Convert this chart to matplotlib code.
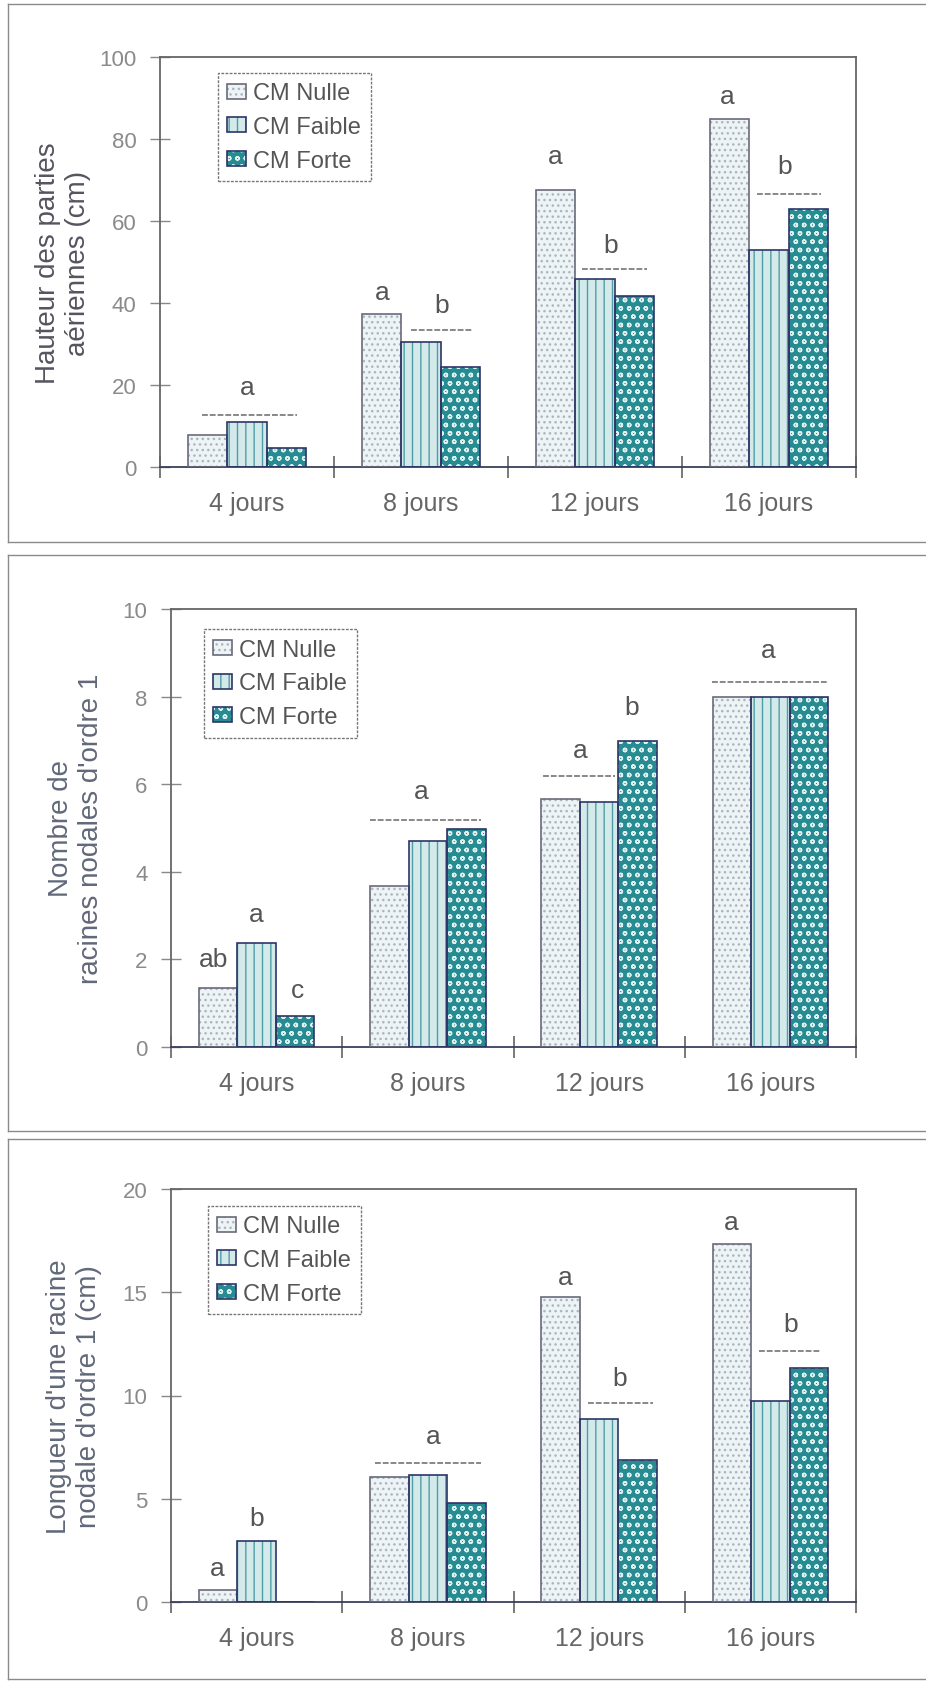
import matplotlib
matplotlib.use('Agg')
import matplotlib.pyplot as plt
from matplotlib.patches import Patch
from matplotlib.lines import Line2D
from matplotlib.legend_handler import HandlerTuple
import numpy as np

# ---------------- data ----------------
groups = ["4 jours", "8 jours", "12 jours", "16 jours"]
series = ["CM Nulle", "CM Faible", "CM Forte"]

hauteur_nulle = [7.8, 37.3, 67.6, 84.9]
hauteur_faible = [11.0, 30.6, 45.9, 53.0]
hauteur_forte = [4.7, 24.4, 41.6, 63.0]

nombre_nulle = [1.35, 3.67, 5.66, 8.0]
nombre_faible = [2.37, 4.70, 5.60, 8.0]
nombre_forte = [0.71, 4.98, 6.99, 8.0]

longueur_nulle = [0.6, 6.03, 14.77, 17.36]
longueur_faible = [2.95, 6.15, 8.86, 9.75]
longueur_forte = [0.0, 4.81, 6.88, 11.31]

# significance letters: (group, offset, y, text)
hauteur_letters = [(0, 0.0, 19.4, 'a'), (1, -0.22, 42.6, 'a'), (1, 0.12, 39.6, 'b'),
                   (2, -0.23, 75.8, 'a'), (2, 0.09, 54.2, 'b'),
                   (3, -0.24, 90.6, 'a'), (3, 0.09, 73.4, 'b')]
hauteur_lines = [(0, -0.26, 0.29, 12.7), (1, -0.06, 0.30, 33.4),
                 (2, -0.075, 0.30, 48.3), (3, -0.07, 0.30, 66.5)]

nombre_letters = [(0, -0.25, 2.02, 'ab'), (0, 0.0, 3.04, 'a'), (0, 0.24, 1.31, 'c'),
                  (1, -0.04, 5.85, 'a'), (2, -0.11, 6.77, 'a'), (2, 0.19, 7.76, 'b'),
                  (3, -0.01, 9.06, 'a')]
nombre_lines = [(1, -0.34, 0.31, 5.18), (2, -0.33, 0.09, 6.18), (3, -0.34, 0.33, 8.33)]

longueur_letters = [(0, -0.23, 1.66, 'a'), (0, 0.0, 4.09, 'b'), (1, 0.03, 8.04, 'a'),
                    (2, -0.20, 15.74, 'a'), (2, 0.12, 10.87, 'b'),
                    (3, -0.23, 18.4, 'a'), (3, 0.12, 13.46, 'b')]
longueur_lines = [(1, -0.31, 0.31, 6.74), (2, -0.065, 0.315, 9.64), (3, -0.066, 0.296, 12.15)]

ylabels = ["Hauteur des parties\naériennes (cm)",
           "Nombre de\nracines nodales d'ordre 1",
           "Longueur d'une racine\nnodale d'ordre 1 (cm)"]

# ---------------- style ----------------
plt.rcParams['font.family'] = ['Liberation Sans', 'DejaVu Sans']
plt.rcParams['hatch.linewidth'] = 1.0

W, H = 926, 1683
fig = plt.figure(figsize=(W / 100, H / 100), dpi=100)
fig.patch.set_facecolor('white')

def fx(px):
    return px / W

def fy(py):
    return 1 - py / H

styles = [
    dict(face='#eef3f5', hatch='...', hc='#a7b6c0', edge='#6a6a7a'),
    dict(face='#d4e9ea', hatch='||', hc='#4f9ea6', edge='#2d3566'),
    dict(face='#278b92', hatch='oo', hc='#dff0f0', edge='#2d3566'),
]

bw = 0.225
text_col = '#555555'

panels = [
    dict(box=(160, 58, 856, 468), vals=[hauteur_nulle, hauteur_faible, hauteur_forte],
         ylim=100, step=20, letters=hauteur_letters, lines=hauteur_lines,
         leg=(0.083, 0.961), ylab_x=-0.139, ylab_col='#555560'),
    dict(box=(171, 610, 856, 1048), vals=[nombre_nulle, nombre_faible, nombre_forte],
         ylim=10, step=2, letters=nombre_letters, lines=nombre_lines,
         leg=(0.048, 0.954), ylab_x=-0.139, ylab_col='#60687a'),
    dict(box=(171, 1190, 856, 1603), vals=[longueur_nulle, longueur_faible, longueur_forte],
         ylim=20, step=5, letters=longueur_letters, lines=longueur_lines,
         leg=(0.054, 0.959), ylab_x=-0.142, ylab_col='#60687a'),
]

x = np.arange(len(groups))
for p, ylab in zip(panels, ylabels):
    l, t, r, b = p['box']
    ax = fig.add_axes([fx(l), fy(b), fx(r) - fx(l), fy(t) - fy(b)])
    for i, (vals, st) in enumerate(zip(p['vals'], styles)):
        pos = x + (i - 1) * bw
        ax.bar(pos, vals, bw, color=st['face'], hatch=st['hatch'], edgecolor=st['hc'],
               linewidth=0, zorder=2)
        ax.bar(pos, vals, bw, fill=False, edgecolor=st['edge'], linewidth=1.2, zorder=3)
    for g, off, yv, txt in p['letters']:
        ax.text(g + off, yv, txt, ha='center', va='center', fontsize=19, color=text_col, zorder=4)
    for g, x0, x1, yv in p['lines']:
        ax.plot([g + x0, g + x1], [yv, yv], linestyle=(0, (3, 1)), color='#888888', lw=1.4, zorder=4)

    ax.set_xlim(-0.5, 3.5)
    ax.set_ylim(0, p['ylim'])
    ax.set_yticks(np.arange(0, p['ylim'] + 0.1, p['step']))
    ax.set_xticks(x)
    ax.set_xticklabels(groups)
    ax.set_xticks(np.arange(-0.5, 3.6, 1.0), minor=True)
    ax.tick_params(axis='x', which='major', length=0, pad=17, labelsize=18, labelcolor='#666666')
    ax.tick_params(axis='x', which='minor', direction='inout', length=16, width=1.1, color='#555555')
    ax.tick_params(axis='y', which='major', direction='inout', length=14, width=1.0, color='#888888',
                   pad=10, labelsize=16, labelcolor='#8a8a8a')
    for s in ax.spines.values():
        s.set_color('#666666')
        s.set_linewidth(1.3)
    ax.spines['bottom'].set_color('#3a3f5a')

    ax.text(p['ylab_x'], 0.5, ylab, rotation=90, ha='center', va='center',
            transform=ax.transAxes, fontsize=20, color=p['ylab_col'],
            multialignment='center', linespacing=1.2)

    handles = [(Patch(facecolor=st['face'], hatch=st['hatch'], edgecolor=st['hc'], linewidth=0),
                Patch(fill=False, edgecolor=st['edge'], linewidth=1.2)) for st in styles]
    leg = ax.legend(handles, series, handler_map={tuple: HandlerTuple(ndivide=1)},
                    loc='upper left', bbox_to_anchor=p['leg'], borderaxespad=0,
                    fontsize=17, handlelength=0.8, handleheight=0.6, handletextpad=0.3,
                    labelspacing=0.5, borderpad=0.4, frameon=True, fancybox=False,
                    edgecolor='#777777', labelcolor='#555555', framealpha=1)
    leg.get_frame().set_linewidth(1.0)
    leg.get_frame().set_linestyle((0, (2, 1)))

# outer panel frames
frames = [(5, 543), (556, 1132), (1140, 1680)]
for top, bot in frames:
    fig.add_artist(Line2D([fx(8), 1.0], [fy(top), fy(top)], color='#8a8a8a', lw=1.0))
    fig.add_artist(Line2D([fx(8), 1.0], [fy(bot), fy(bot)], color='#8a8a8a', lw=1.0))
    fig.add_artist(Line2D([fx(8), fx(8)], [fy(top), fy(bot)], color='#8a8a8a', lw=1.0))

fig.savefig('out.png', dpi=100)
